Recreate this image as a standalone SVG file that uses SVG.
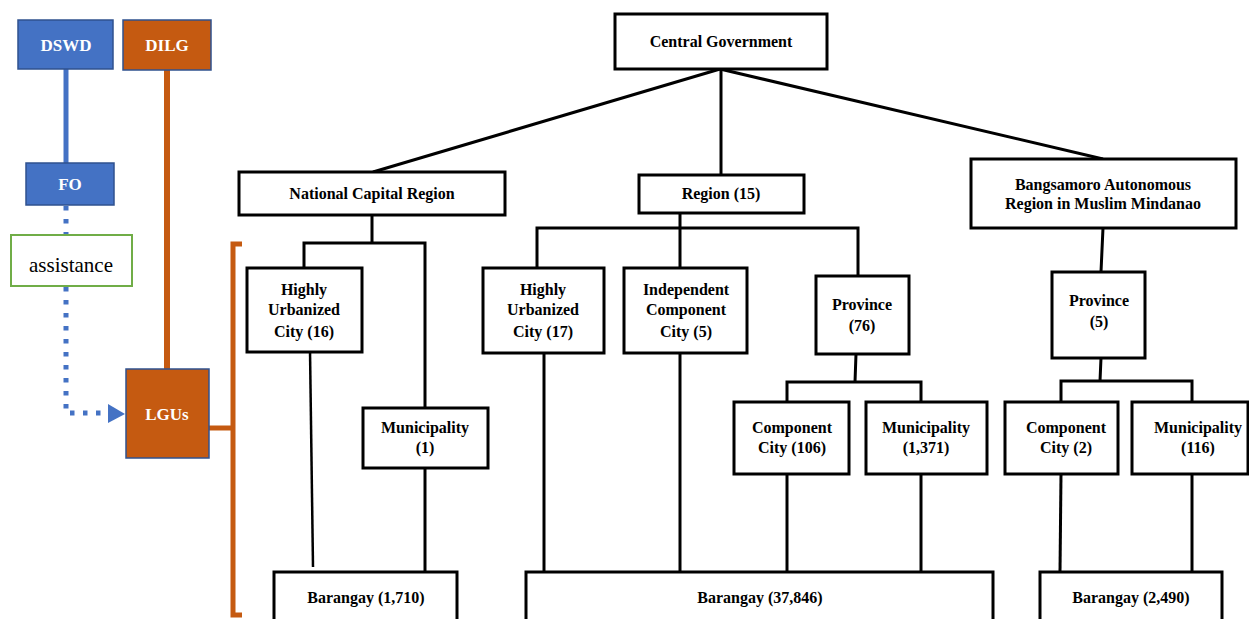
<svg xmlns="http://www.w3.org/2000/svg" width="1249" height="619" viewBox="0 0 1249 619">
  <style>
    .box { fill: #ffffff; stroke: #000000; stroke-width: 3; }
    .lbl { font-family: "Liberation Serif", "DejaVu Serif", Times, serif; font-weight: bold; font-size: 16px; fill: #000000; text-anchor: middle; }
    .w { font-family: "Liberation Serif", "DejaVu Serif", Times, serif; font-weight: bold; font-size: 17px; fill: #ffffff; text-anchor: middle; }
    .plain { font-family: "Liberation Serif", "DejaVu Serif", Times, serif; font-size: 21px; fill: #000000; text-anchor: middle; }
    .ln { stroke: #000000; stroke-width: 3; fill: none; }
    .blue { fill: #4472C4; stroke: #2F528F; stroke-width: 1.5; }
    .orange { fill: #C55A11; stroke: #2F528F; stroke-width: 1.5; }
  </style>
  <rect width="1249" height="619" fill="#ffffff"/>

  <!-- connectors -->
  <g id="connectors">
    <!-- agency lines -->
    <line x1="66" y1="69" x2="66" y2="163" stroke="#4472C4" stroke-width="5"/>
    <line x1="167" y1="70" x2="167" y2="369" stroke="#C55A11" stroke-width="6"/>
    <path d="M66,206 V235 M66,287 V413 H108" stroke="#4472C4" stroke-width="5" fill="none" stroke-dasharray="4.5 8.5"/>
    <path d="M108,404 L125,414 L108,423 Z" fill="#4472C4"/>
    <!-- LGU bracket -->
    <path d="M209,428 H233" stroke="#C55A11" stroke-width="5" fill="none"/>
    <path d="M242,244 H233 V615 H242" stroke="#C55A11" stroke-width="5" fill="none"/>

    <!-- central government to regions -->
    <line class="ln" x1="720" y1="69" x2="373" y2="172"/>
    <line class="ln" x1="721" y1="69" x2="721" y2="175"/>
    <line class="ln" x1="720" y1="69" x2="1103" y2="159"/>

    <!-- NCR -->
    <path class="ln" d="M372,215 V243 M304,268 V243 H425 V408"/>
    <line x1="310" y1="350" x2="313" y2="567" stroke="#000" stroke-width="2.5"/>
    <line class="ln" x1="425" y1="468" x2="425" y2="577"/>

    <!-- Region (15) -->
    <path class="ln" d="M680,213 V268 M537,268 V228 H858 V276"/>
    <line class="ln" x1="544" y1="353" x2="544" y2="572"/>
    <line class="ln" x1="680" y1="353" x2="680" y2="575"/>
    <path class="ln" d="M856,354 L855,382 M787,402 V382 H921 V402"/>
    <line class="ln" x1="787" y1="474" x2="787" y2="572"/>
    <line class="ln" x1="921" y1="474" x2="921" y2="572"/>

    <!-- BARMM -->
    <path class="ln" d="M1103,228 L1101,272 M1101,358 L1100,381 M1061,402 V381 H1192 V402"/>
    <line class="ln" x1="1061" y1="474" x2="1060" y2="572"/>
    <line class="ln" x1="1192" y1="474" x2="1192" y2="572"/>
  </g>

  <!-- agency nodes -->
  <g id="dswd"><rect class="blue" x="18" y="20" width="95" height="49"/><text class="w" x="66" y="51">DSWD</text></g>
  <g id="dilg"><rect class="orange" x="123" y="20" width="88" height="50"/><text class="w" x="167" y="51">DILG</text></g>
  <g id="fo"><rect class="blue" x="26" y="163" width="88" height="42"/><text class="w" x="70" y="190">FO</text></g>
  <g id="assistance"><rect x="11" y="235" width="121" height="51" fill="#fff" stroke="#70AD47" stroke-width="2"/><text class="plain" x="71" y="272">assistance</text></g>
  <g id="lgus"><rect class="orange" x="126" y="369" width="83" height="89"/><text class="w" x="167" y="420" font-size="16">LGUs</text></g>

  <!-- hierarchy nodes -->
  <g id="central"><rect class="box" x="615" y="14" width="212" height="55"/><text class="lbl" x="721" y="47">Central Government</text></g>
  <g id="ncr"><rect class="box" x="239" y="172" width="266" height="43"/><text class="lbl" x="372" y="199">National Capital Region</text></g>
  <g id="region"><rect class="box" x="639" y="175" width="165" height="38"/><text class="lbl" x="721" y="199">Region (15)</text></g>
  <g id="barmm"><rect class="box" x="971" y="159" width="265" height="69"/><text class="lbl" x="1103" y="190">Bangsamoro  Autonomous</text><text class="lbl" x="1103" y="209">Region in Muslim Mindanao</text></g>

  <g id="huc16"><rect class="box" x="247" y="268" width="115" height="84"/><text class="lbl" x="304" y="295">Highly</text><text class="lbl" x="304" y="315">Urbanized</text><text class="lbl" x="304" y="337">City (16)</text></g>
  <g id="mun1"><rect class="box" x="363" y="408" width="125" height="60"/><text class="lbl" x="425" y="433">Municipality</text><text class="lbl" x="425" y="453">(1)</text></g>

  <g id="huc17"><rect class="box" x="483" y="268" width="121" height="85"/><text class="lbl" x="543" y="295">Highly</text><text class="lbl" x="543" y="315">Urbanized</text><text class="lbl" x="543" y="337">City (17)</text></g>
  <g id="icc"><rect class="box" x="624" y="268" width="123" height="85"/><text class="lbl" x="686" y="295">Independent</text><text class="lbl" x="686" y="315">Component</text><text class="lbl" x="686" y="337">City (5)</text></g>
  <g id="prov76"><rect class="box" x="816" y="276" width="93" height="78"/><text class="lbl" x="862" y="310">Province</text><text class="lbl" x="862" y="331">(76)</text></g>
  <g id="cc106"><rect class="box" x="734" y="402" width="115" height="72"/><text class="lbl" x="792" y="433">Component</text><text class="lbl" x="792" y="453">City (106)</text></g>
  <g id="mun1371"><rect class="box" x="866" y="402" width="121" height="72"/><text class="lbl" x="926" y="433">Municipality</text><text class="lbl" x="926" y="453">(1,371)</text></g>

  <g id="prov5"><rect class="box" x="1052" y="272" width="93" height="86"/><text class="lbl" x="1099" y="306">Province</text><text class="lbl" x="1099" y="327">(5)</text></g>
  <g id="cc2"><rect class="box" x="1005" y="402" width="113" height="72"/><text class="lbl" x="1066" y="433">Component</text><text class="lbl" x="1066" y="453">City (2)</text></g>
  <g id="mun116"><rect class="box" x="1132" y="402" width="116" height="72"/><text class="lbl" x="1198" y="433">Municipality</text><text class="lbl" x="1198" y="453">(116)</text></g>

  <g id="brgy1710"><rect class="box" x="274" y="572" width="183" height="60"/><text class="lbl" x="366" y="603">Barangay (1,710)</text></g>
  <g id="brgy37846"><rect class="box" x="526" y="572" width="467" height="60"/><text class="lbl" x="760" y="603">Barangay (37,846)</text></g>
  <g id="brgy2490"><rect class="box" x="1040" y="572" width="182" height="60"/><text class="lbl" x="1131" y="603">Barangay (2,490)</text></g>
</svg>
